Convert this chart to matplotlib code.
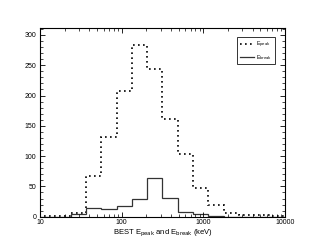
import numpy as np
import matplotlib.pyplot as plt
from matplotlib.ticker import MultipleLocator, LogLocator

plt.rcParams['font.family'] = ['Liberation Sans', 'DejaVu Sans']

# 16 log bins from 10 to 10000 keV
bin_edges = np.logspace(1, 4, 17)
counts_peak = [1, 1, 6, 67, 132, 207, 284, 243, 162, 103, 48, 20, 6, 2, 2, 1]
counts_break = [0, 0, 5, 15, 13, 18, 29, 64, 31, 8, 5, 1, 0, 0, 0, 0]

fig = plt.figure(figsize=(3.11, 2.49), dpi=100)
ax = fig.add_axes([40 / 311, 1 - 216.7 / 249, 245 / 311, 189 / 249])

ax.stairs(counts_peak, bin_edges, color='black', linestyle=(0, (1, 2)),
          linewidth=1.2, label=r'E$_{\rm peak}$')
ax.stairs(counts_break, bin_edges, color='#333333', linestyle='-',
          linewidth=0.9, label=r'E$_{\rm break}$')

ax.set_xscale('log')
ax.set_xlim(10, 10000)
ax.set_ylim(0, 312)
ax.yaxis.set_major_locator(MultipleLocator(50))
ax.yaxis.set_minor_locator(MultipleLocator(10))
ax.xaxis.set_minor_locator(LogLocator(base=10, subs=np.arange(2, 10)))
ax.set_xticks([10, 100, 1000, 10000])
ax.set_xticklabels(['10', '100', '1000', '10000'])

ax.tick_params(which='both', direction='in', top=True, right=True,
               labelsize=5)
ax.tick_params(axis='x', pad=2)
ax.tick_params(axis='y', pad=2.5)
ax.tick_params(which='major', length=3.5, width=0.6)
ax.tick_params(which='minor', length=2, width=0.5)
for s in ax.spines.values():
    s.set_linewidth(0.8)

ax.set_xlabel(r'BEST E$_{\rm peak}$ and E$_{\rm break}$ (keV)', fontsize=5.5,
              labelpad=1)

leg = ax.legend(loc='upper right', fontsize=3.8, frameon=True, fancybox=False,
                edgecolor='black', handlelength=2.6, handletextpad=0.5,
                borderpad=0.5, labelspacing=0.5, borderaxespad=0,
                bbox_to_anchor=(0.96, 0.95))
leg.get_frame().set_linewidth(0.7)

fig.savefig('out.png', dpi=100)
